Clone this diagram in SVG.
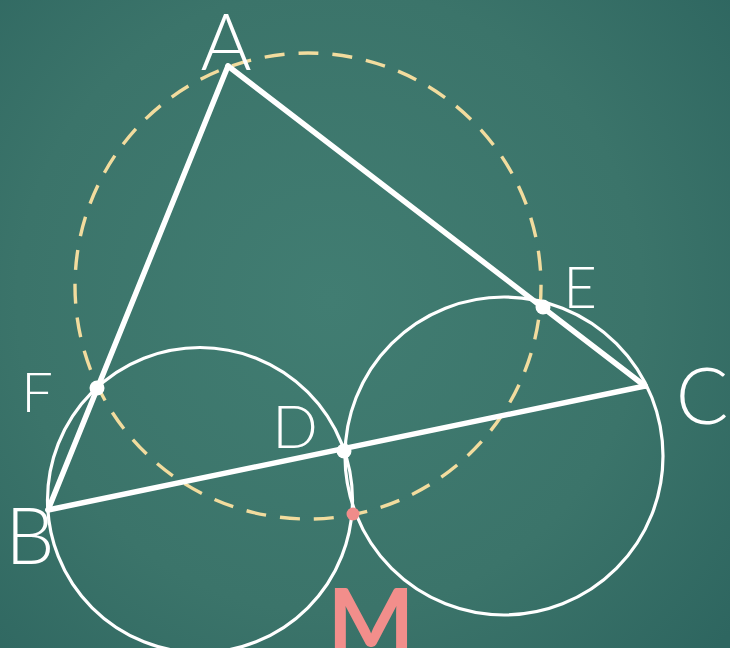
<svg xmlns="http://www.w3.org/2000/svg" width="730" height="648" viewBox="0 0 730 648">
<defs>
<radialGradient id="bg" cx="330" cy="300" r="520" gradientUnits="userSpaceOnUse">
<stop offset="0" stop-color="#417D72"/>
<stop offset="0.6" stop-color="#3B746A"/>
<stop offset="1" stop-color="#2E6660"/>
</radialGradient>
<style>
.ln{stroke:#fff;stroke-width:5.5;fill:none;stroke-linecap:round}
.cc{stroke:#fff;stroke-width:3.2;fill:none}
.dash{stroke:#F2DC9E;stroke-width:3.4;fill:none;stroke-dasharray:20 14}
.lbl{font-family:"Lato","Liberation Sans",sans-serif;fill:#fff;font-weight:300}
.dot{fill:#fff}
</style>
</defs>
<rect width="730" height="648" fill="url(#bg)"/>
<g id="connectors">
<circle id="circumcircle" class="dash" cx="308" cy="286" r="233"/>
<circle id="circleBFD" class="cc" cx="200" cy="500" r="152.5"/>
<circle id="circleCDE" class="cc" cx="504" cy="456" r="159"/>
<line class="ln" x1="228" y1="66" x2="48" y2="510"/>
<line class="ln" x1="228" y1="66" x2="645" y2="386"/>
<line class="ln" x1="48" y1="510" x2="645" y2="386"/>
</g>
<g id="A"><text class="lbl" x="226" y="70" font-size="78" text-anchor="middle">A</text></g>
<g id="B"><text class="lbl" x="30" y="564" font-size="78" text-anchor="middle">B</text></g>
<g id="C"><text class="lbl" x="702" y="424" font-size="78" text-anchor="middle">C</text></g>
<g id="D"><circle class="dot" cx="344" cy="451" r="7.5"/><text class="lbl" x="295" y="448" font-size="60" text-anchor="middle">D</text></g>
<g id="E"><circle class="dot" cx="543" cy="307" r="7.5"/><text class="lbl" x="580" y="308" font-size="58" text-anchor="middle">E</text></g>
<g id="F"><circle class="dot" cx="97" cy="388" r="7.5"/><text class="lbl" x="37" y="412" font-size="56" text-anchor="middle">F</text></g>
<g id="M"><circle cx="353" cy="514" r="6.5" fill="#F08C8A"/><text x="371" y="655" font-size="92" font-weight="bold" text-anchor="middle" font-family="'Lato','Liberation Sans',sans-serif" fill="#F28E8B">M</text></g>
</svg>
